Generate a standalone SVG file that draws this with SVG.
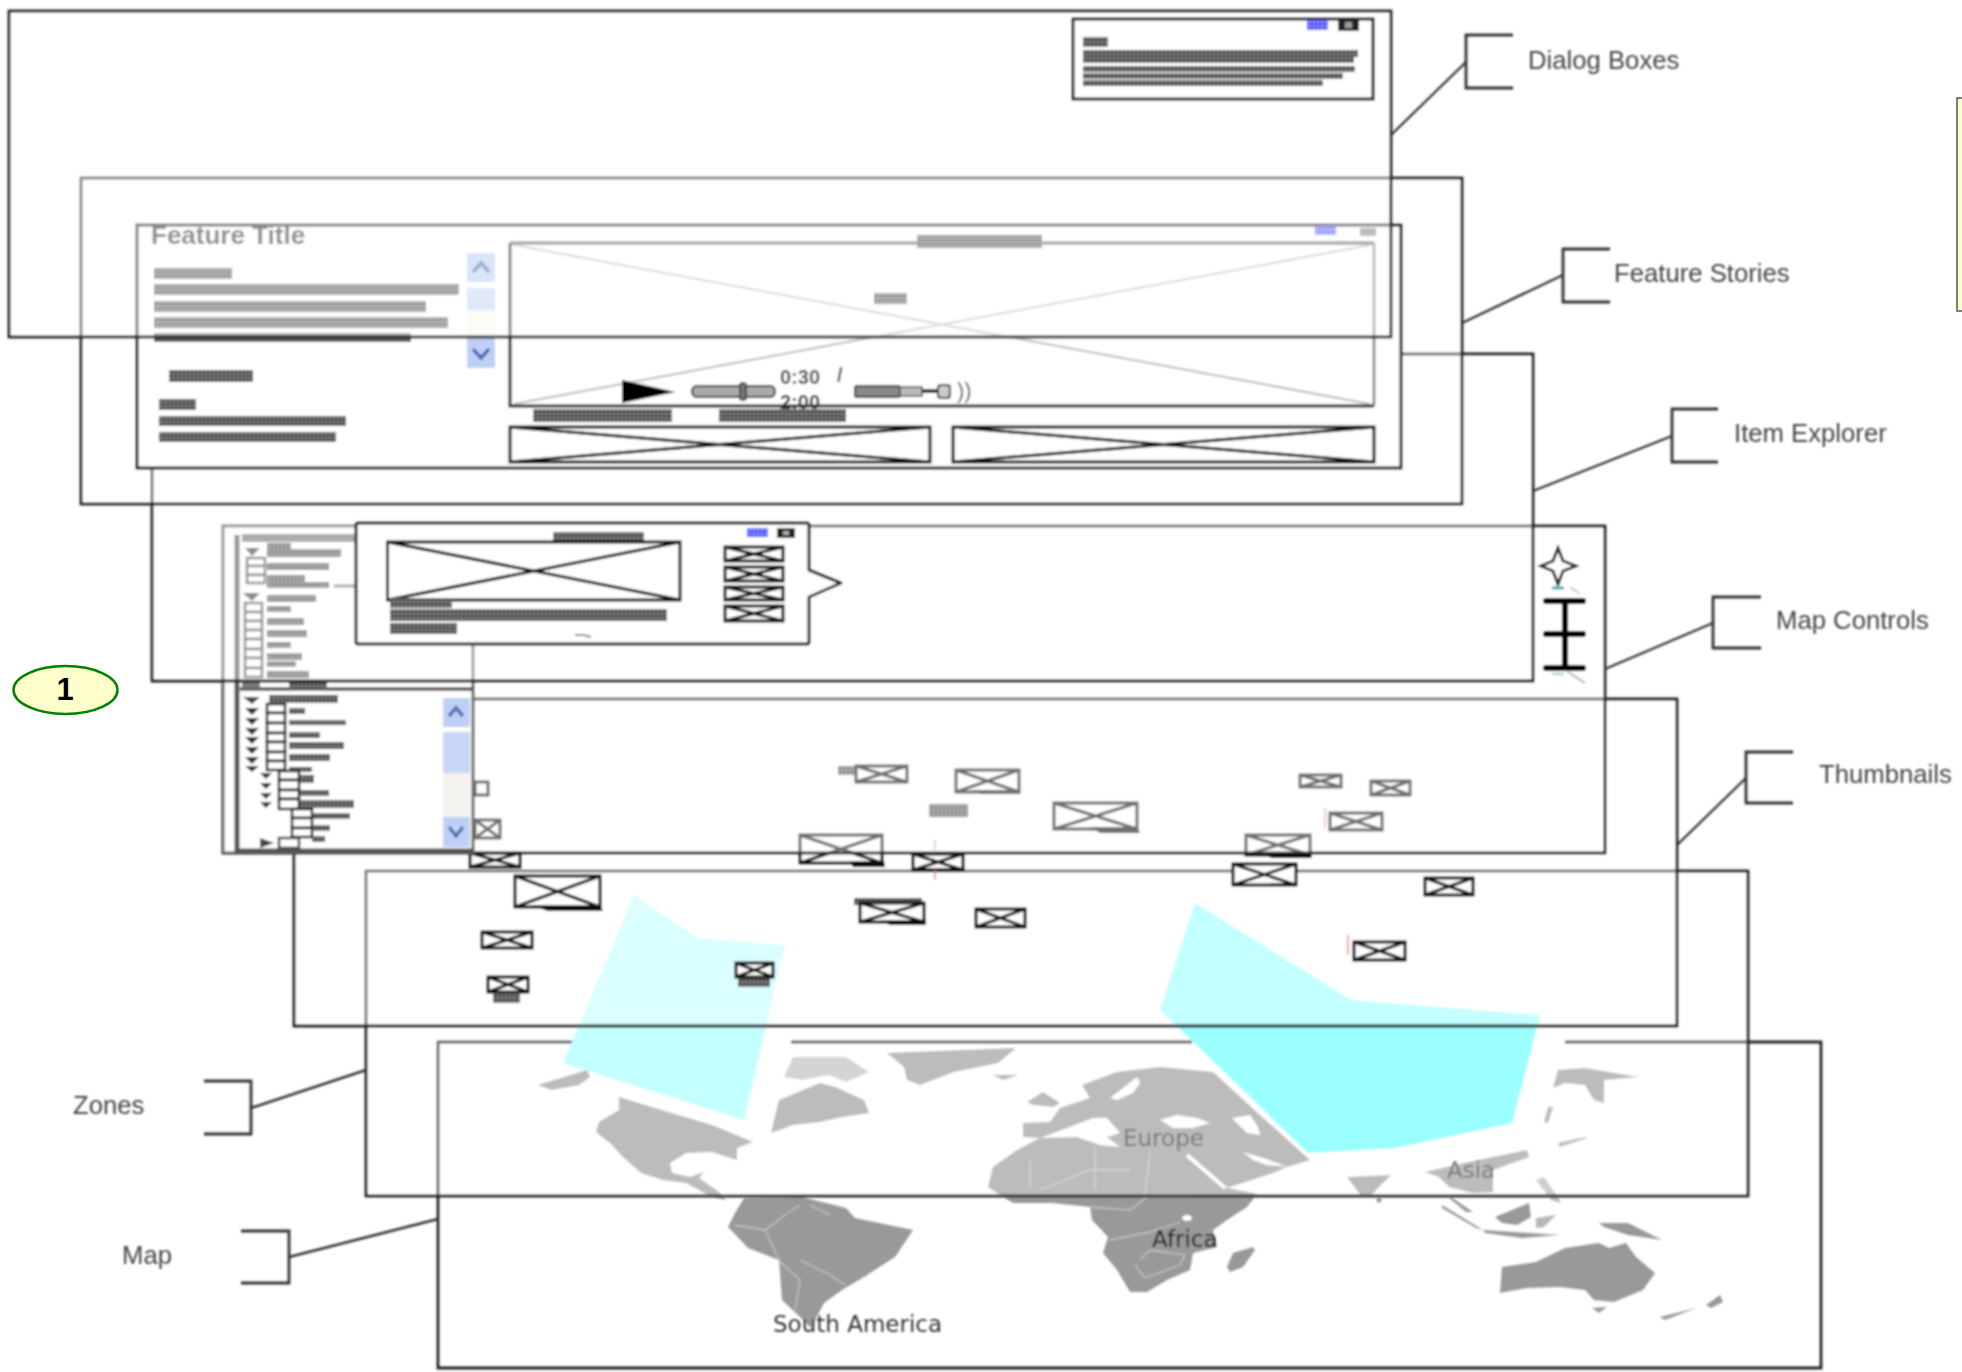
<svg xmlns="http://www.w3.org/2000/svg" width="1962" height="1372" viewBox="0 0 1962 1372">
<style>
.layer{fill:#fff;stroke:#222;stroke-width:2.8}
.ln{fill:none;stroke:#222;stroke-width:2.8}
.th{fill:#fff;stroke:#111;stroke-width:2.2}
.thb{fill:#fff;stroke:#111;stroke-width:3}
.gk{fill:url(#gk)}
.bl{fill:url(#bl)}
.land{fill:#999;stroke:none}
.sea{fill:#fff;stroke:none}
.bd{fill:none;stroke:#c4c4c4;stroke-width:1.3}
.lab{font-family:"Liberation Sans",Arial,sans-serif;font-size:25.7px;fill:#444}
.geo{font-family:"DejaVu Sans",sans-serif;font-size:23px;fill:#333}
.br{fill:none;stroke:#333;stroke-width:2.8}
.cn{fill:none;stroke:#333;stroke-width:2.4}
.chev{fill:none;stroke:#4f6fb0;stroke-width:3.5}
</style>
<defs>
<pattern id="gk" width="4" height="4" patternUnits="userSpaceOnUse"><rect width="4" height="4" fill="#4c4c4c"/><circle cx="2" cy="2" r="1" fill="#b0b0b0"/></pattern>
<pattern id="bl" width="4" height="4" patternUnits="userSpaceOnUse"><rect width="4" height="4" fill="#4848ff"/><circle cx="2" cy="2" r="1" fill="#ccccff"/></pattern>
<filter id="soft" filterUnits="userSpaceOnUse" x="0" y="0" width="1962" height="1372"><feGaussianBlur stdDeviation="0.9"/></filter>
</defs>
<rect width="1962" height="1372" fill="#fff"/>
<g filter="url(#soft)">
<g id="map-layer">
<g>
<path class="land" d="M619 1097L668 1112 712 1125 753 1142 737 1148 737 1160 712 1152 686 1153 670 1163 672 1173 690 1177 704 1172 699 1178 719 1192 726 1200 712 1197 686 1183 663 1180 641 1173 623 1157 610 1143 596 1132 599 1122 619 1110Z"/>
<path class="land" d="M538 1085L587 1070 590 1077 579 1085 552 1090Z"/>
<path class="land" d="M771 1133L779 1100 820 1083 835 1087 864 1100 869 1113 842 1117 820 1122 793 1125Z"/>
<path class="land" d="M784 1077L793 1057 846 1057 869 1072 846 1082 829 1075 802 1080Z" opacity="0.65"/>
<path class="land" d="M887 1053L1016 1048 998 1063 954 1072 920 1085 907 1080 904 1067Z"/>
<path class="land" d="M993 1075L1018 1075 1003 1080Z"/>
<path class="land" d="M744 1198L802 1197 846 1208 855 1218 913 1230 895 1257 864 1277 842 1290 824 1303 811 1328 800 1317 782 1300 779 1260 748 1248 728 1227 735 1213Z"/>
<path class="bd" d="M735 1225L765 1230 785 1215 800 1205M765 1230L780 1262 800 1280 795 1310M800 1260L830 1275 845 1285M810 1205L830 1215"/>
<path class="land" d="M1027 1102L1043 1092 1060 1103 1053 1107 1033 1105Z"/>
<path class="land" d="M1023 1123L1050 1122 1060 1108 1090 1098 1082 1085 1117 1072 1160 1067 1213 1072 1260 1115 1310 1160 1287 1167 1273 1173 1230 1187 1223 1187 1257 1194 1247 1207 1227 1220 1213 1230 1217 1247 1193 1253 1190 1270 1167 1280 1147 1292 1130 1292 1117 1270 1103 1253 1108 1237 1092 1220 1090 1207 1053 1203 1013 1203 1000 1195 988 1187 993 1167 1017 1150 1040 1138 1023 1137Z"/>
<path class="sea" d="M1040 1138L1067 1128 1093 1118 1107 1118 1120 1133 1107 1137 1120 1147 1100 1145 1077 1137Z"/>
<path class="sea" d="M1160 1120L1177 1115 1197 1118 1210 1123 1193 1128 1173 1128Z"/>
<path class="sea" d="M1232 1118L1250 1115 1258 1127 1260 1135 1247 1133Z"/>
<path class="sea" d="M1110 1098L1137 1077 1140 1083 1133 1093 1117 1100Z"/>
<path class="sea" d="M1243 1152L1263 1158 1288 1167 1267 1165 1253 1160Z"/>
<path d="M1187 1155L1225 1188" fill="none" stroke="#fff" stroke-width="4"/>
<ellipse class="sea" cx="1187" cy="1218" rx="5" ry="3"/>
<path class="bd" d="M1030 1160L1030 1188M1095 1148V1190M1150 1152L1145 1195M1040 1190L1090 1170 1130 1170M1090 1207L1130 1210 1150 1195 1190 1195M1110 1240L1150 1232 1180 1222M1140 1260L1150 1250 1185 1255 1180 1265 1145 1278 1135 1265"/>
<path class="land" d="M1253 1247L1255 1250 1243 1267 1230 1272 1227 1267 1233 1253Z"/>
<path class="land" d="M1558 1070L1585 1068 1638 1077 1604 1080 1604 1103 1594 1100 1585 1085 1565 1083 1553 1088Z"/>
<path class="land" d="M1548 1107L1553 1107 1548 1123 1544 1122Z"/>
<path class="land" d="M1558 1143L1585 1137 1587 1138 1560 1147Z"/>
<path class="land" d="M1347 1177L1391 1175 1369 1197 1362 1197Z"/>
<circle class="land" cx="1379" cy="1200" r="2.5"/>
<path class="land" d="M1425 1172L1464 1163 1527 1150 1529 1157 1493 1170 1493 1192 1473 1193 1449 1187 1439 1177Z"/>
<path class="land" d="M1451 1197L1473 1212 1466 1212 1449 1198Z"/>
<path class="land" d="M1442 1205L1483 1230 1476 1228 1442 1208Z"/>
<path class="land" d="M1483 1230L1560 1235 1522 1238 1485 1233Z"/>
<path class="land" d="M1495 1217L1529 1203 1531 1217 1517 1225 1502 1223Z"/>
<path class="land" d="M1536 1218L1556 1215 1544 1227 1536 1228Z" opacity="0.7"/>
<path class="land" d="M1599 1223L1628 1223 1662 1240 1628 1235 1604 1227Z"/>
<path class="land" d="M1536 1180L1544 1177 1558 1197 1561 1203 1551 1200Z" opacity="0.7"/>
<path class="land" d="M1502 1267L1536 1262 1565 1248 1599 1243 1609 1248 1626 1243 1636 1257 1655 1273 1643 1290 1614 1302 1594 1300 1585 1290 1560 1287 1527 1288 1500 1293Z"/>
<path class="land" d="M1592 1308L1607 1307 1599 1313Z"/>
<path class="land" d="M1660 1317L1696 1308 1665 1320Z"/>
<path class="land" d="M1706 1305L1720 1295 1723 1302 1711 1308Z"/>
</g>
<text class="geo" x="773" y="1332">South America</text>
<text class="geo" x="1123" y="1146">Europe</text>
<text class="geo" x="1447" y="1178">Asia</text>
<text class="geo" x="1152" y="1247" style="fill:#111">Africa</text>
<path class="ln" d="M603 1042H438V1368H1821V1042H1565M791 1042H1192"/>
</g>
<g id="zones-layer">
<rect class="layer" x="366" y="871" width="1382" height="325" fill-opacity="0.34"/>
<path id="zone-west" fill="#c4ffff" d="M634 895L698 938 785 945 744 1120 563 1063Z"/>
<path id="zone-east" fill="#9cffff" d="M1195 903L1351 1000 1540 1015 1512 1123 1396 1148 1308 1153 1160 1010Z"/>
</g>
<g id="thumbnails-layer">
<path d="M294 853V1026H1677V699H473V853Z" fill="#fff" fill-opacity="0.4"/>
<path class="ln" d="M294 853V1026H1677V699H473"/>
<rect class="gk" x="838" y="766" width="18" height="9"/>
<rect class="gk" x="929" y="804" width="39" height="13"/>
<rect class="gk" x="854" y="898" width="68" height="7"/>
<rect class="gk" x="493" y="992" width="27" height="11"/>
<rect class="gk" x="738" y="977" width="32" height="10"/>
<path class="thb" d="M856 766h51v16h-51zl51 16m0-16l-51 16"/>
<path class="thb" d="M956 770h63v22h-63zl63 22m0-22l-63 22"/>
<path class="thb" d="M1054 803h83v26h-83zl83 26m0-26l-83 26"/>
<path class="thb" d="M800 835h82v28h-82zl82 28m0-28l-82 28"/>
<path class="thb" d="M913 854h50v16h-50zl50 16m0-16l-50 16"/>
<path class="thb" d="M860 903h64v19h-64zl64 19m0-19l-64 19"/>
<path class="thb" d="M976 909h49v18h-49zl49 18m0-18l-49 18"/>
<path class="thb" d="M1246 835h64v20h-64zl64 20m0-20l-64 20"/>
<path class="thb" d="M1233 864h63v21h-63zl63 21m0-21l-63 21"/>
<path class="thb" d="M1425 878h48v17h-48zl48 17m0-17l-48 17"/>
<path class="thb" d="M1354 942h51v18h-51zl51 18m0-18l-51 18"/>
<path class="thb" d="M1300 775h41v12h-41zl41 12m0-12l-41 12"/>
<path class="thb" d="M1371 781h39v14h-39zl39 14m0-14l-39 14"/>
<path class="thb" d="M1330 813h52v17h-52zl52 17m0-17l-52 17"/>
<path class="thb" d="M475 782h13v13h-13z"/>
<path class="thb" d="M475 820h25v18h-25zl25 18m0-18l-25 18"/>
<path class="thb" d="M470 853h50v14h-50zl50 14m0-14l-50 14"/>
<path class="thb" d="M515 876h85v31h-85zl85 31m0-31l-85 31"/>
<path class="thb" d="M482 932h50v16h-50zl50 16m0-16l-50 16"/>
<path class="thb" d="M488 977h40v15h-40zl40 15m0-15l-40 15"/>
<path class="thb" d="M736 963h37v14h-37zl37 14m0-14l-37 14"/>
<path d="M1090 827h47l3 6h-40zM850 861h34l1 6h-32zM1260 853h50l2 5h-40zM880 920h46v5h-36zM530 905h70l3 6h-55zM970 790h49l2 4h-40zM1270 883h26l1 3h-20zM920 868h43v3h-33z" fill="#111"/>
<path d="M935 840V850M935 870V880M1325 808V828M1348 935V955" stroke="#f08070" stroke-width="1.5" fill="none"/>
</g>
<g id="map-controls-layer">
<rect x="223" y="526" width="1382" height="327" fill="#fff" fill-opacity="0.4"/>
<rect x="223" y="526" width="1382" height="327" class="ln"/>
<rect x="223" y="526" width="250" height="327" fill="#fff"/>
<path fill="none" stroke="#666" stroke-width="3" d="M473 526H223V853H473V645"/>
<path fill="none" stroke="#555" stroke-width="5" d="M237 535V851H473"/>
<path fill="none" stroke="#555" stroke-width="3.5" d="M240 689H473"/>
<path fill="none" stroke="#777" stroke-width="8" d="M242 538H356"/>
<path fill="none" stroke="#777" stroke-width="3" d="M334 586H356"/>
<g id="tree">
<path fill="#444" d="M245 548H260L252 556ZM243 593H260L252 601ZM243 697H260L252 704ZM260 838L274 843 260 848Z"/>
<g class="gk">
<rect x="267" y="543" width="24" height="6"/><rect x="267" y="549" width="74" height="8"/><rect x="267" y="563" width="62" height="7"/><rect x="267" y="575" width="38" height="7"/><rect x="267" y="582" width="62" height="6"/>
<rect x="267" y="595" width="49" height="7"/><rect x="267" y="606" width="24" height="6"/><rect x="267" y="618" width="37" height="7"/><rect x="267" y="630" width="40" height="7"/><rect x="267" y="642" width="24" height="6"/><rect x="267" y="653" width="35" height="7"/><rect x="267" y="661" width="29" height="6"/><rect x="267" y="671" width="42" height="7"/>
<rect x="289" y="682" width="38" height="8"/><rect x="269" y="695" width="69" height="8"/>
<rect x="289" y="708" width="16" height="6"/><rect x="289" y="720" width="57" height="5"/><rect x="289" y="732" width="31" height="6"/><rect x="289" y="742" width="55" height="7"/><rect x="289" y="754" width="41" height="7"/><rect x="289" y="767" width="23" height="5"/>
<rect x="300" y="775" width="14" height="8"/><rect x="300" y="790" width="29" height="6"/><rect x="300" y="800" width="54" height="8"/>
<rect x="312" y="813" width="38" height="6"/><rect x="312" y="825" width="18" height="6"/><rect x="312" y="836" width="13" height="6"/>
</g>
<g fill="#fff" stroke="#555" stroke-width="2.5">
<rect x="247" y="558" width="18" height="8"/><rect x="247" y="566" width="18" height="9"/><rect x="247" y="575" width="18" height="8"/>
<rect x="245" y="603" width="17" height="9"/><rect x="245" y="612" width="17" height="9"/><rect x="245" y="621" width="17" height="9"/><rect x="245" y="630" width="17" height="9"/><rect x="245" y="639" width="17" height="10"/><rect x="245" y="649" width="17" height="9"/><rect x="245" y="658" width="17" height="10"/><rect x="245" y="668" width="17" height="9"/>
</g>
<g fill="#fff" stroke="#222" stroke-width="2.5">
<rect x="267" y="704" width="18" height="9"/><rect x="267" y="713" width="18" height="10"/><rect x="267" y="723" width="18" height="10"/><rect x="267" y="733" width="18" height="9"/><rect x="267" y="742" width="18" height="10"/><rect x="267" y="752" width="18" height="9"/><rect x="267" y="761" width="18" height="9"/>
<rect x="279" y="771" width="20" height="9"/><rect x="279" y="780" width="20" height="10"/><rect x="279" y="790" width="20" height="9"/><rect x="279" y="799" width="20" height="10"/>
<rect x="292" y="809" width="20" height="9"/><rect x="292" y="818" width="20" height="10"/><rect x="292" y="828" width="20" height="9"/>
<rect x="279" y="838" width="20" height="10" stroke="#444"/>
</g>
<path fill="#333" d="M245 708h14l-7 7zM245 718h14l-7 7zM245 728h14l-7 7zM245 737h14l-7 7zM245 747h14l-7 7zM245 757h14l-7 7zM245 766h14l-7 6zM260 773h12l-6 6zM260 783h12l-6 6zM260 793h12l-6 6zM260 802h12l-6 6z"/>
<path fill="#777" d="M242 680h18v7h-18z"/>
</g>
<g id="tree-scroll">
<rect x="443" y="698" width="27" height="29" fill="#bed0f5"/>
<path class="chev" d="M449 716l7-8 7 8"/>
<rect x="443" y="732" width="27" height="41" fill="#c8d6f8"/>
<rect x="443" y="773" width="27" height="44" fill="#f5f3ee"/>
<rect x="443" y="817" width="27" height="30" fill="#bed0f5"/>
<path class="chev" d="M449 827l7 9 7-9"/>
</g>
<g id="map-tools">
<path fill="#fff" stroke="#222" stroke-width="2.8" d="M1558 548L1563 561 1576 566 1563 571 1558 584 1553 571 1541 566 1553 561Z"/>
<path d="M1552 588h12" stroke="#5aa" stroke-width="3" fill="none"/>
<path d="M1570 587l10 7M1552 674h12" stroke="#8bb" stroke-width="1.5" fill="none"/>
<path d="M1565 601V668M1546 601H1583M1546 634H1583M1546 668H1583" fill="none" stroke="#000" stroke-width="6" stroke-linecap="round"/>
<path d="M1568 672l17 11" stroke="#aaa" stroke-width="1.5" fill="none"/>
</g>
</g>
<g id="item-explorer-layer">
<path d="M152 468V681H1533V354H1401V468Z" fill="#fff" fill-opacity="0.4"/>
<path class="ln" d="M152 468V681H1533V354H1401"/>
<g id="popup">
<path fill="#fff" stroke="#222" stroke-width="3" stroke-linejoin="round" d="M358 523H807Q809 523 809 525V570L841 583 809 597V642Q809 644 807 644H358Q356 644 356 642V525Q356 523 358 523Z"/>
<rect class="gk" x="553" y="532" width="91" height="10"/>
<path class="thb" d="M387.5 542h292.5v58h-292.5zl292.5 58m0-58l-292.5 58"/>
<rect class="bl" x="747" y="528" width="21" height="9"/>
<rect x="777" y="528" width="18" height="10" fill="#222"/><rect x="783" y="531" width="6" height="4" fill="#aaa"/>
<path class="thb" d="M725 547h58v14h-58zl58 14m0-14l-58 14"/>
<path class="thb" d="M725 567h58v14h-58zl58 14m0-14l-58 14"/>
<path class="thb" d="M725 587h58v13h-58zl58 13m0-13l-58 13"/>
<path class="thb" d="M725 606h58v15h-58zl58 15m0-15l-58 15"/>
<rect class="gk" x="390" y="598" width="62" height="10"/>
<rect class="gk" x="390" y="609" width="277" height="12"/>
<rect class="gk" x="390" y="623" width="67" height="11"/>
<path d="M575 635h8l8 2" stroke="#789" stroke-width="2" fill="none"/>
</g>
</g>
<g id="feature-stories-layer">
<rect x="81" y="178" width="1381" height="326" fill="#fff" fill-opacity="0.4"/>
<rect class="ln" x="81" y="178" width="1381" height="326"/>
<g id="feature-panel">
<rect x="137" y="225" width="1264" height="243" fill="#fff" stroke="#222" stroke-width="3"/>
<text x="151" y="244" font-family="'Liberation Sans',Arial,sans-serif" font-size="26" font-weight="bold" fill="#333">Feature Title</text>
<rect class="gk" x="154" y="268" width="78" height="11"/>
<rect class="gk" x="154" y="284" width="305" height="11"/>
<rect class="gk" x="154" y="301" width="272" height="11"/>
<rect class="gk" x="154" y="317" width="294" height="11"/>
<rect class="gk" x="154" y="333" width="257" height="9"/>
<rect class="gk" x="169" y="370" width="84" height="12"/>
<rect class="gk" x="159" y="399" width="37" height="11"/>
<rect class="gk" x="159" y="416" width="187" height="10"/>
<rect class="gk" x="159" y="432" width="177" height="10"/>
<rect x="467" y="253" width="28" height="29" fill="#bed0f5"/>
<path class="chev" d="M473 272l8-9 8 9"/>
<rect x="467" y="288" width="28" height="22" fill="#c8d6f8"/>
<rect x="467" y="310" width="28" height="28" fill="#f8f7f2"/>
<rect x="467" y="338" width="28" height="30" fill="#bed0f5"/>
<path class="chev" d="M473 349l8 9 8-9"/>
<path d="M514 245L1370 404M514 404L1370 245" stroke="#bbb" stroke-width="2" fill="none"/>
<path d="M510 243H1374" stroke="#666" stroke-width="3.5" fill="none"/>
<path d="M510 243V406H1374" stroke="#222" stroke-width="3" fill="none"/>
<path d="M1374 243V406" stroke="#777" stroke-width="2.5" fill="none"/>
<rect class="gk" x="917" y="235" width="125" height="13"/>
<rect class="gk" x="874" y="293" width="33" height="11"/>
<rect class="bl" x="1315" y="226" width="21" height="9"/>
<rect x="1360" y="228" width="16" height="8" fill="#888"/>
<path d="M622 380L675 392 622 403Z" fill="#000"/>
<rect x="692" y="386" width="83" height="11" rx="5" fill="#aaa" stroke="#333" stroke-width="2"/>
<rect x="740" y="383" width="6" height="17" rx="2" fill="#777" stroke="#333" stroke-width="1.5"/>
<rect x="855" y="386" width="45" height="11" rx="2" fill="#888" stroke="#333" stroke-width="2"/>
<rect x="900" y="387" width="22" height="9" fill="#bbb" stroke="#555" stroke-width="1.5"/>
<path d="M922 391H938" stroke="#222" stroke-width="4" fill="none"/>
<rect x="938" y="385" width="12" height="13" rx="3" fill="#ccc" stroke="#333" stroke-width="2"/>
<text x="780" y="384" font-family="'Liberation Sans',Arial,sans-serif" font-size="20" font-weight="bold" fill="#444">0:30</text>
<text x="837" y="382" font-family="'Liberation Sans',Arial,sans-serif" font-size="20" font-weight="bold" fill="#444">/</text>
<text x="780" y="409" font-family="'Liberation Sans',Arial,sans-serif" font-size="20" font-weight="bold" fill="#333">2:00</text>
<text x="957" y="398" font-family="'Liberation Sans',Arial,sans-serif" font-size="22" fill="#444">))</text>
<rect class="gk" x="533" y="409" width="139" height="13"/>
<rect class="gk" x="719" y="409" width="127" height="13"/>
<path class="thb" d="M510 427h420v35h-420zl420 35m0-35l-420 35"/>
<path class="thb" d="M953 427h421v35h-421zl421 35m0-35l-421 35"/>
</g>
</g>
<g id="dialog-boxes-layer">
<rect x="9" y="11" width="1382" height="326" fill="#fff" fill-opacity="0.45"/>
<rect class="ln" x="9" y="11" width="1382" height="326" stroke-width="3"/>
<g id="dialog-box">
<rect x="1073" y="19" width="300" height="80" fill="#fff" stroke="#222" stroke-width="3"/>
<rect class="bl" x="1307" y="20" width="21" height="10"/>
<rect x="1338" y="19" width="21" height="12" fill="#222"/><rect x="1345" y="22" width="7" height="6" fill="#999"/>
<rect class="gk" x="1083" y="37" width="25" height="10"/>
<rect class="gk" x="1083" y="50" width="275" height="7"/>
<rect class="gk" x="1083" y="57" width="271" height="6"/>
<rect class="gk" x="1083" y="66" width="272" height="6"/>
<rect class="gk" x="1083" y="73" width="260" height="6"/>
<rect class="gk" x="1083" y="80" width="240" height="6"/>
</g>
</g>
<g id="connectors">
<path class="cn" d="M1391 135L1466 62"/>
<path class="cn" d="M1462 323L1563 275"/>
<path class="cn" d="M1533 491L1672 436"/>
<path class="cn" d="M1605 669L1713 623"/>
<path class="cn" d="M1677 845L1746 778"/>
<path class="cn" d="M366 1070L251 1108"/>
<path class="cn" d="M438 1219L289 1257"/>
</g>
<g id="label-dialog-boxes"><path class="br" d="M1513 35H1466V88H1513"/><text class="lab" x="1528" y="69">Dialog Boxes</text></g>
<g id="label-feature-stories"><path class="br" d="M1610 249H1563V302H1610"/><text class="lab" x="1614" y="282">Feature Stories</text></g>
<g id="label-item-explorer"><path class="br" d="M1718 409H1672V462H1718"/><text class="lab" x="1734" y="442">Item Explorer</text></g>
<g id="label-map-controls"><path class="br" d="M1761 597H1713V648H1761"/><text class="lab" x="1776" y="629">Map Controls</text></g>
<g id="label-thumbnails"><path class="br" d="M1793 752H1746V803H1793"/><text class="lab" x="1819" y="783">Thumbnails</text></g>
<g id="label-zones"><path class="br" d="M204 1081H251V1134H204"/><text class="lab" x="73" y="1114">Zones</text></g>
<g id="label-map"><path class="br" d="M241 1231H289V1283H241"/><text class="lab" x="122" y="1264">Map</text></g>
</g>
<g id="badge-1"><ellipse cx="65.5" cy="690" rx="52" ry="24" fill="#ffffcc" stroke="#008000" stroke-width="2.5"/><text x="65" y="700" text-anchor="middle" font-family="'Liberation Sans',Arial,sans-serif" font-size="31" font-weight="bold" fill="#000">1</text></g>
<g id="note"><rect x="1957" y="98" width="20" height="213" fill="#ffffcc" stroke="#555" stroke-width="1.5"/></g>
</svg>
